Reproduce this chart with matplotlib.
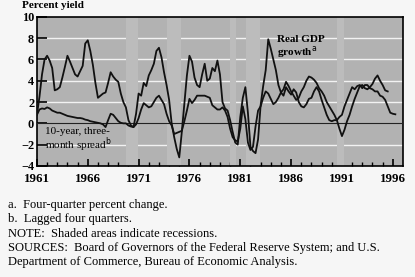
import matplotlib
matplotlib.use("Agg")
import matplotlib.pyplot as plt
import numpy as np

plt.rcParams['font.family'] = ['Liberation Serif', 'DejaVu Serif']

# Real GDP growth, four-quarter percent change (decimal year, percent)
gdp_t = [1961.0, 1961.25, 1961.5, 1961.75, 1962.0, 1962.25, 1962.5, 1962.75,
         1963.0, 1963.25, 1963.5, 1963.75, 1964.0, 1964.25, 1964.5, 1964.75,
         1965.0, 1965.25, 1965.5, 1965.75, 1966.0, 1966.25, 1966.5, 1966.75,
         1967.0, 1967.25, 1967.5, 1967.75, 1968.0, 1968.25, 1968.5, 1968.75,
         1969.0, 1969.25, 1969.5, 1969.75, 1970.0, 1970.25, 1970.5, 1970.75,
         1971.0, 1971.25, 1971.5, 1971.75, 1972.0, 1972.25, 1972.5, 1972.75,
         1973.0, 1973.25, 1973.5, 1973.75, 1974.0, 1974.25, 1974.5, 1974.75,
         1975.0, 1975.25, 1975.5, 1975.75, 1976.0, 1976.25, 1976.5, 1976.75,
         1977.0, 1977.25, 1977.5, 1977.75, 1978.0, 1978.25, 1978.5, 1978.75,
         1979.0, 1979.25, 1979.5, 1979.75, 1980.0, 1980.25, 1980.5, 1980.75,
         1981.0, 1981.25, 1981.5, 1981.75, 1982.0, 1982.25, 1982.5, 1982.75,
         1983.0, 1983.25, 1983.5, 1983.75, 1984.0, 1984.25, 1984.5, 1984.75,
         1985.0, 1985.25, 1985.5, 1985.75, 1986.0, 1986.25, 1986.5, 1986.75,
         1987.0, 1987.25, 1987.5, 1987.75, 1988.0, 1988.25, 1988.5, 1988.75,
         1989.0, 1989.25, 1989.5, 1989.75, 1990.0, 1990.25, 1990.5, 1990.75,
         1991.0, 1991.25, 1991.5, 1991.75, 1992.0, 1992.25, 1992.5, 1992.75,
         1993.0, 1993.25, 1993.5, 1993.75, 1994.0, 1994.25, 1994.5, 1994.75,
         1995.0, 1995.25, 1995.5]
gdp_v = [0.8, 2.5, 4.6, 6.0, 6.35, 5.9, 5.2, 3.1,
         3.2, 3.4, 4.3, 5.3, 6.35, 5.8, 5.2, 4.6,
         4.4, 4.9, 5.4, 7.5, 7.8, 6.8, 5.5, 3.8,
         2.4, 2.6, 2.8, 2.9, 3.8, 4.8, 4.4, 4.1,
         3.9, 2.8, 2.0, 1.5, 0.3, -0.2, -0.35, 0.9,
         2.8, 2.6, 3.8, 3.5, 4.5, 5.0, 5.6, 6.8,
         7.1, 6.2, 4.8, 3.6, 2.2, 0.0, -1.3, -2.4,
         -3.2, -0.8, 1.8, 4.5, 6.35, 5.8, 4.3, 3.6,
         3.4, 4.6, 5.6, 4.0, 4.2, 5.2, 4.9, 5.9,
         4.6, 2.0, 1.4, 1.2, 0.3, -0.8, -1.8, -2.0,
         0.6, 2.4, 3.4, 1.0, -2.2, -2.6, -2.8, -1.5,
         1.7, 3.5, 5.0, 7.9, 7.0, 6.0, 5.0, 3.6,
         2.9, 3.2, 3.9, 3.5, 3.0, 2.6, 2.2, 2.4,
         3.0, 3.4, 4.0, 4.4, 4.3, 4.1, 3.8, 3.3,
         3.0, 2.6, 2.0, 1.6, 1.2, 0.8, 0.3, -0.5,
         -1.2, -0.6, 0.2, 0.8, 1.6, 2.3, 2.9, 3.5,
         3.6, 3.3, 3.2, 3.4, 3.7, 4.2, 4.5, 4.0,
         3.6, 3.1, 3.0]

# 10-year minus three-month spread, lagged four quarters
spr_t = [1961.0, 1961.25, 1961.5, 1961.75, 1962.0, 1962.25, 1962.5, 1962.75,
         1963.0, 1963.25, 1963.5, 1963.75, 1964.0, 1964.25, 1964.5, 1964.75,
         1965.0, 1965.25, 1965.5, 1965.75, 1966.0, 1966.25, 1966.5, 1966.75,
         1967.0, 1967.25, 1967.5, 1967.75, 1968.0, 1968.25, 1968.5, 1968.75,
         1969.0, 1969.25, 1969.5, 1969.75, 1970.0, 1970.25, 1970.5, 1970.75,
         1971.0, 1971.25, 1971.5, 1971.75, 1972.0, 1972.25, 1972.5, 1972.75,
         1973.0, 1973.25, 1973.5, 1973.75, 1974.0, 1974.25, 1974.5, 1974.75,
         1975.0, 1975.25, 1975.5, 1975.75, 1976.0, 1976.25, 1976.5, 1976.75,
         1977.0, 1977.25, 1977.5, 1977.75, 1978.0, 1978.25, 1978.5, 1978.75,
         1979.0, 1979.25, 1979.5, 1979.75, 1980.0, 1980.25, 1980.5, 1980.75,
         1981.0, 1981.25, 1981.5, 1981.75, 1982.0, 1982.25, 1982.5, 1982.75,
         1983.0, 1983.25, 1983.5, 1983.75, 1984.0, 1984.25, 1984.5, 1984.75,
         1985.0, 1985.25, 1985.5, 1985.75, 1986.0, 1986.25, 1986.5, 1986.75,
         1987.0, 1987.25, 1987.5, 1987.75, 1988.0, 1988.25, 1988.5, 1988.75,
         1989.0, 1989.25, 1989.5, 1989.75, 1990.0, 1990.25, 1990.5, 1990.75,
         1991.0, 1991.25, 1991.5, 1991.75, 1992.0, 1992.25, 1992.5, 1992.75,
         1993.0, 1993.25, 1993.5, 1993.75, 1994.0, 1994.25, 1994.5, 1994.75,
         1995.0, 1995.25, 1995.5, 1995.75, 1996.0, 1996.25]
spr_v = [0.8, 1.3, 1.4, 1.35, 1.5, 1.4, 1.2, 1.1,
         1.0, 1.0, 0.9, 0.8, 0.7, 0.65, 0.6, 0.55,
         0.5, 0.5, 0.45, 0.35, 0.3, 0.2, 0.15, 0.1,
         0.05, 0.0, -0.1, -0.35, 0.3, 0.9, 0.8, 0.5,
         0.2, 0.05, 0.0, 0.0, -0.2, -0.3, -0.35, -0.1,
         0.5, 1.3, 1.9, 1.7, 1.5, 1.6, 2.0, 2.4,
         2.6, 2.2, 1.8, 0.9, 0.2, -0.2, -1.0, -0.9,
         -0.8, -0.7, 0.2, 1.2, 2.3, 1.9, 2.2, 2.6,
         2.6, 2.6, 2.6, 2.5, 2.4, 1.7, 1.5, 1.3,
         1.3, 1.5, 1.2, 0.6, -0.5, -1.3, -1.6, -1.7,
         -0.5, 1.6, 0.4, -1.8, -2.5, -2.2, -0.3, 1.2,
         1.6, 2.4, 3.0, 2.8, 2.3, 1.8, 2.0, 2.4,
         2.9, 2.6, 3.4, 3.0, 2.7, 3.2, 2.9, 2.0,
         1.6, 1.5, 1.8, 2.3, 2.4, 3.0, 3.4, 3.0,
         2.2, 1.5, 0.8, 0.3, 0.2, 0.3, 0.3, 0.6,
         0.8, 1.6, 2.2, 2.8, 3.4, 3.2, 3.5, 3.6,
         3.3, 3.6, 3.6, 3.3, 3.2, 3.0, 3.0, 2.6,
         2.5, 2.2, 1.6, 1.0, 0.9, 0.85]

recessions = [(1969.75, 1970.9), (1973.8, 1975.2), (1980.0, 1980.6),
              (1981.6, 1982.9), (1990.55, 1991.2)]

fig = plt.figure(figsize=(4.15, 2.77), dpi=100)
fig.patch.set_facecolor('#f6f6f6')
ax = fig.add_axes([0.089, 0.401, 0.882, 0.538])
ax.set_facecolor('#b2b2b2')

for y in [-2, 2, 4, 6, 8]:
    ax.axhline(y, color='#f2f2f2', lw=1.0, zorder=1)
for a, b in recessions:
    ax.axvspan(a, b, color='#bcbcbc', lw=0, zorder=2)
ax.axhline(0, color='#222222', lw=0.8, zorder=3)

ax.plot(gdp_t, gdp_v, color='#111111', lw=1.3, zorder=4)
ax.plot(spr_t, spr_v, color='#111111', lw=1.3, zorder=4)

ax.set_xlim(1961, 1997)
ax.set_ylim(-4, 10)
ax.set_yticks(range(-4, 11, 2))
ax.set_xticks(range(1961, 1997, 5))
ax.set_xticks(range(1961, 1997), minor=True)
ax.tick_params(axis='y', direction='in', length=7, width=1.2, pad=2,
               labelsize=8.8, left=True, right=False)
ax.tick_params(axis='x', which='major', direction='in', length=5, width=1.2,
               pad=5, labelsize=9.3, top=False)
ax.tick_params(axis='x', which='minor', direction='in', length=3, width=1.0,
               top=False)
for lab in ax.get_xticklabels() + ax.get_yticklabels():
    lab.set_fontweight('bold')
for s in ax.spines.values():
    s.set_linewidth(1.2)

ax.text(1984.6, 8.3, 'Real GDP\ngrowth$^{\\mathrm{a}}$', fontsize=8,
        fontweight='bold', va='top', ha='left', linespacing=1.0, zorder=5)
ax.text(1961.8, -0.3, '10-year, three-\nmonth spread$^{\\mathrm{b}}$',
        fontsize=8, va='top', ha='left', linespacing=1.0, zorder=5)

fig.text(22 / 415, 1 - 8.5 / 277, 'Percent yield', fontsize=8, fontweight='bold',
         ha='left', va='baseline')

notes = ['a.  Four-quarter percent change.',
         'b.  Lagged four quarters.',
         'NOTE:  Shaded areas indicate recessions.',
         'SOURCES:  Board of Governors of the Federal Reserve System; and U.S.',
         'Department of Commerce, Bureau of Economic Analysis.']
for i, line in enumerate(notes):
    fig.text(8 / 415, 1 - (205 + i * 14.3) / 277, line, fontsize=9.0,
             ha='left', va='center')

fig.savefig('out.png', dpi=100, facecolor=fig.get_facecolor())
